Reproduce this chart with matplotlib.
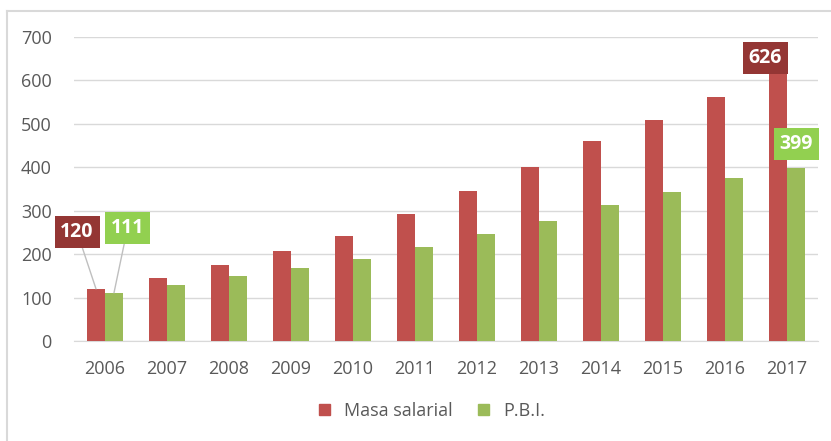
import matplotlib.pyplot as plt
from matplotlib.patches import Patch
from matplotlib.lines import Line2D
import numpy as np

years = ["2006", "2007", "2008", "2009", "2010", "2011",
         "2012", "2013", "2014", "2015", "2016", "2017"]
masa_salarial = [120, 145, 175, 207, 242, 292, 345, 400, 460, 509, 562, 626]
pbi = [111, 129, 150, 168, 189, 216, 246, 276, 313, 343, 375, 399]

red = "#C0504D"
green = "#9BBB59"
grid_col = "#D9D9D9"
txt_col = "#595959"

plt.rcParams['font.family'] = ['Open Sans', 'DejaVu Sans']

fig = plt.figure(figsize=(8.31, 4.41), dpi=100)
ax = fig.add_axes([74 / 831, 1 - 341 / 441, 744 / 831, 304 / 441])

x = np.arange(len(years))
w = 0.29
ax.bar(x - w / 2, masa_salarial, w, color=red, zorder=3)
ax.bar(x + w / 2, pbi, w, color=green, zorder=3)

ax.set_xlim(-0.5, len(years) - 0.5)
ax.set_ylim(0, 700)
ax.set_yticks(range(0, 701, 100))
ax.set_xticks(x)
ax.set_xticklabels(years)
ax.yaxis.grid(True, color=grid_col, linewidth=1, zorder=0)
ax.tick_params(length=0, labelsize=13, labelcolor=txt_col)
ax.tick_params(axis='x', pad=14)
ax.tick_params(axis='y', pad=16)
for s in ["top", "right", "left"]:
    ax.spines[s].set_visible(False)
ax.spines["bottom"].set_color(grid_col)

# Data labels (first and last year)
def label(text, xy, xytext, face, leader):
    ap = dict(arrowstyle="-", color="#BFBFBF", lw=1, shrinkA=0, shrinkB=0) if leader else None
    ax.annotate(text, xy=xy, xytext=xytext, ha="center", va="center",
                fontsize=14, fontweight="bold", color="white", zorder=5,
                bbox=dict(boxstyle="square,pad=0.3", fc=face, ec="none"),
                arrowprops=ap)

label(str(masa_salarial[0]), (-w / 2, masa_salarial[0]), (-0.45, 251), "#943634", True)
label(str(pbi[0]), (w / 2, pbi[0]), (0.363, 260), "#92D050", True)
label(str(masa_salarial[-1]), (11 - w / 2, masa_salarial[-1]), (10.65, 652), "#943634", False)
label(str(pbi[-1]), (11 + w / 2, pbi[-1]), (11.15, 454), "#92D050", False)

handles = [Patch(color=red, label="Masa salarial"), Patch(color=green, label="P.B.I.")]
fig.legend(handles=handles, loc="center", bbox_to_anchor=(432 / 831, 1 - 411 / 441),
           ncol=2, frameon=False, fontsize=13, handlelength=0.6, handleheight=0.6,
           handletextpad=0.8, columnspacing=1.4, labelcolor=txt_col)

# chart frame (left and top edges visible)
fig.add_artist(Line2D([7 / 831, 7 / 831], [0, 1 - 11 / 441], color="#D9D9D9", lw=1.5,
                      transform=fig.transFigure))
fig.add_artist(Line2D([7 / 831, 1], [1 - 11 / 441, 1 - 11 / 441], color="#D9D9D9", lw=1.5,
                      transform=fig.transFigure))

fig.savefig("out.png", dpi=100)
